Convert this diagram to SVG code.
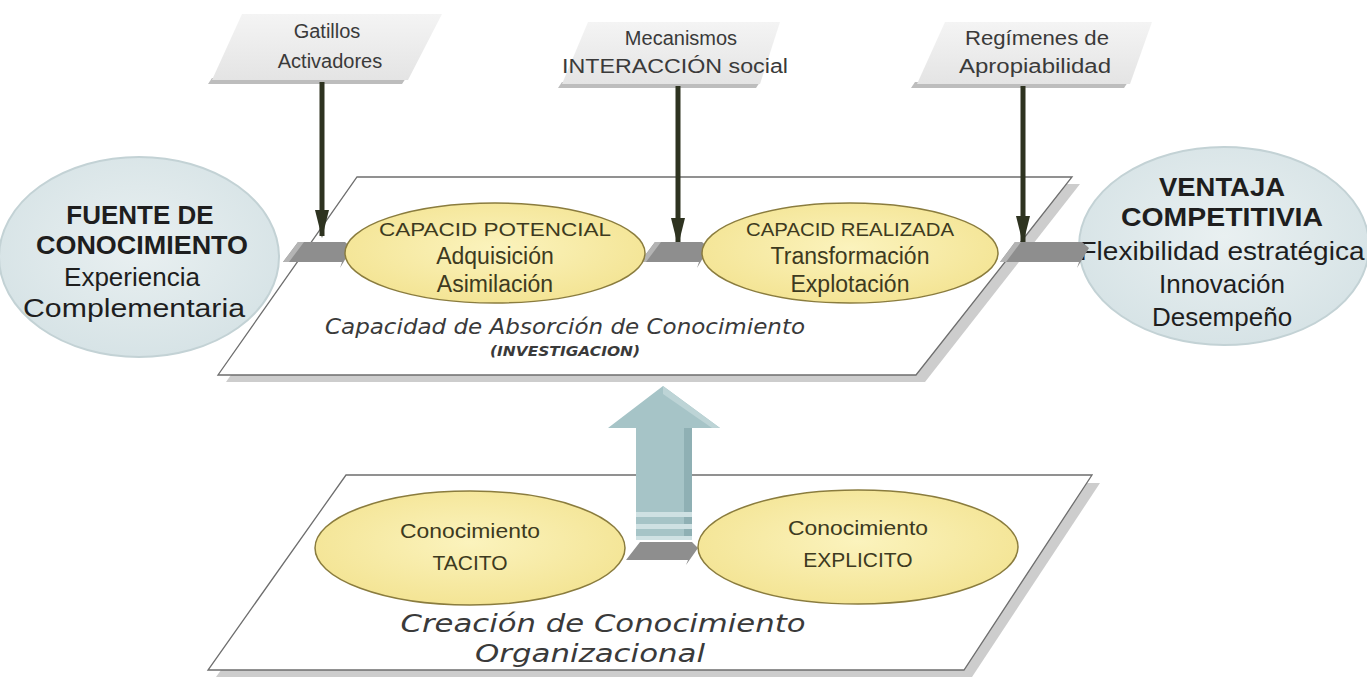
<svg xmlns="http://www.w3.org/2000/svg" width="1367" height="679" viewBox="0 0 1367 679">
<defs>
<linearGradient id="tagG" x1="0" y1="0" x2="0" y2="1"><stop offset="0" stop-color="#f4f4f4"/><stop offset="1" stop-color="#e4e4e4"/></linearGradient>
<radialGradient id="yelG" cx="0.5" cy="0.45" r="0.6"><stop offset="0" stop-color="#fbf3bd"/><stop offset="1" stop-color="#f3e391"/></radialGradient>
<radialGradient id="bluG" cx="0.5" cy="0.45" r="0.6"><stop offset="0" stop-color="#e9f0f1"/><stop offset="1" stop-color="#d5e2e5"/></radialGradient>
<marker id="ah" viewBox="0 0 28 14" refX="26" refY="7" markerWidth="28" markerHeight="14" markerUnits="userSpaceOnUse" orient="auto">
<path d="M0,0 L28,7 L0,14 Z" fill="#2e3320"/>
</marker>
</defs>
<style>
.tag{fill:url(#tagG);}
.tagsh{fill:#bdbdbd;}
.tagt{font-family:"Liberation Sans",Arial,sans-serif;font-size:20px;fill:#3a3a3a;text-anchor:middle;}
.plane{fill:#ffffff;stroke:#6e6e6e;stroke-width:1.3;}
.plsh{fill:#cdcdcd;}
.yel{fill:url(#yelG);stroke:#8a7c3e;stroke-width:1.5;}
.blu{fill:url(#bluG);stroke:#c3d2d5;stroke-width:2;}
.yt{font-family:"Liberation Sans",Arial,sans-serif;fill:#3d3a20;text-anchor:middle;}
.bt{font-family:"Liberation Sans",Arial,sans-serif;fill:#1e1e1e;text-anchor:middle;}
.it{font-family:"DejaVu Sans",Verdana,sans-serif;font-style:italic;fill:#3a3a3a;text-anchor:middle;}
.dk{stroke:#2e3320;stroke-width:5;fill:none;}
.ga{fill:#8e8e8e;}
.gal{fill:#b4b4b4;}
</style>

<g id="plane-upper">
<polygon class="plsh" points="365,184 1080,184 925,382 226,382"/>
<polygon class="plane" points="357,177 1072,177 916,375 218,375"/>
<text class="it" x="565" y="334" font-size="22" textLength="480" lengthAdjust="spacingAndGlyphs">Capacidad de Absorción de Conocimiento</text>
<text class="it" x="565" y="356" font-size="14" font-weight="bold" textLength="150" lengthAdjust="spacingAndGlyphs">(INVESTIGACION)</text>
</g>

<g id="plane-lower">
<polygon class="plsh" points="354,483 1100,483 972,677 216,677"/>
<polygon class="plane" points="346,475 1092,475 964,670 208,670"/>
<text class="it" x="603" y="632" font-size="24" textLength="405" lengthAdjust="spacingAndGlyphs">Creación de Conocimiento</text>
<text class="it" x="590" y="662" font-size="24" textLength="230" lengthAdjust="spacingAndGlyphs">Organizacional</text>
</g>

<g id="tag-gatillos">
<polygon class="tagsh" points="212,78 406,78 402,84 208,84"/>
<polygon class="tag" points="242,14 442,14 408,80 212,80"/>
<text class="tagt" x="327" y="38" font-size="21">Gatillos</text>
<text class="tagt" x="330" y="68" font-size="22">Activadores</text>
</g>

<g id="tag-mecanismos">
<polygon class="tagsh" points="562,82 760,82 756,88 558,88"/>
<polygon class="tag" points="588,22 780,22 760,84 562,84"/>
<text class="tagt" x="681" y="45">Mecanismos</text>
<text class="tagt" x="675" y="73" textLength="226" lengthAdjust="spacingAndGlyphs">INTERACCIÓN social</text>
</g>

<g id="tag-regimenes">
<polygon class="tagsh" points="915,82 1128,82 1124,88 911,88"/>
<polygon class="tag" points="945,22 1152,22 1130,84 917,84"/>
<text class="tagt" x="1037" y="45" textLength="144" lengthAdjust="spacingAndGlyphs">Regímenes de</text>
<text class="tagt" x="1035" y="73" textLength="152" lengthAdjust="spacingAndGlyphs">Apropiabilidad</text>
</g>

<g id="fuente">
<ellipse class="blu" cx="139" cy="257" rx="140" ry="100"/>
<text class="bt" x="140" y="224" font-size="26" font-weight="bold">FUENTE DE</text>
<text class="bt" x="142" y="254" font-size="26" font-weight="bold" textLength="212" lengthAdjust="spacingAndGlyphs">CONOCIMIENTO</text>
<text class="bt" x="132" y="286" font-size="26">Experiencia</text>
<text class="bt" x="134" y="317" font-size="26" textLength="222" lengthAdjust="spacingAndGlyphs">Complementaria</text>
</g>

<g id="ventaja">
<ellipse class="blu" cx="1224" cy="246" rx="145" ry="99"/>
<text class="bt" x="1222" y="196" font-size="26" font-weight="bold" textLength="126" lengthAdjust="spacingAndGlyphs">VENTAJA</text>
<text class="bt" x="1222" y="226" font-size="26" font-weight="bold" textLength="202" lengthAdjust="spacingAndGlyphs">COMPETITIVIA</text>
<text class="bt" x="1222" y="260" font-size="26" textLength="285" lengthAdjust="spacingAndGlyphs">Flexibilidad estratégica</text>
<text class="bt" x="1222" y="293" font-size="26">Innovación</text>
<text class="bt" x="1222" y="326" font-size="26">Desempeño</text>
</g>

<g id="connectors">
<line class="dk" x1="322" y1="82" x2="322" y2="236" marker-end="url(#ah)"/>
<line class="dk" x1="678" y1="86" x2="678" y2="244" marker-end="url(#ah)"/>
<line class="dk" x1="1023" y1="86" x2="1023" y2="242" marker-end="url(#ah)"/>
<polygon class="ga" points="283,262 298,242 345,242 352,248 340,268 342,262"/>
<polygon class="gal" points="283,262 298,242 304,242 289,262"/>
<polygon class="ga" points="640,262 655,242 702,242 709,248 697,268 699,262"/>
<polygon class="gal" points="640,262 655,242 661,242 646,262"/>
<polygon class="ga" points="1000,262 1015,242 1082,242 1089,248 1077,268 1079,262"/>
<polygon class="gal" points="1000,262 1015,242 1021,242 1006,262"/>
<polygon class="ga" points="626,560 640,542 692,542 698,548 686,565 688,560"/>
<g id="up-arrow">
<polygon points="663,386 720,428 692,428 692,538 636,538 636,428 608,428" fill="#a6c4c7"/>
<polygon points="663,386 720,428 712,428 663,394" fill="#bdd4d6"/>
<polygon points="684,428 692,428 692,538 684,538" fill="#8fb0b4"/>
<rect x="636" y="512" width="56" height="5" fill="#cfe1e3"/>
<rect x="636" y="524" width="56" height="5" fill="#cfe1e3"/>
<rect x="636" y="536" width="56" height="4" fill="#cfe1e3"/>
</g>
</g>

<g id="potencial">
<ellipse class="yel" cx="495" cy="253" rx="150" ry="50"/>
<text class="yt" x="495" y="236" font-size="19" textLength="232" lengthAdjust="spacingAndGlyphs">CAPACID POTENCIAL</text>
<text class="yt" x="495" y="264" font-size="23">Adquisición</text>
<text class="yt" x="495" y="292" font-size="23">Asimilación</text>
</g>

<g id="realizada">
<ellipse class="yel" cx="850" cy="253" rx="148" ry="50"/>
<text class="yt" x="850" y="236" font-size="19" textLength="208" lengthAdjust="spacingAndGlyphs">CAPACID REALIZADA</text>
<text class="yt" x="850" y="264" font-size="23">Transformación</text>
<text class="yt" x="850" y="292" font-size="23">Explotación</text>
</g>

<g id="tacito">
<ellipse class="yel" cx="470" cy="548" rx="155" ry="57"/>
<text class="yt" x="470" y="538" font-size="21" textLength="140" lengthAdjust="spacingAndGlyphs">Conocimiento</text>
<text class="yt" x="470" y="570" font-size="21">TACITO</text>
</g>

<g id="explicito">
<ellipse class="yel" cx="858" cy="547" rx="160" ry="57"/>
<text class="yt" x="858" y="535" font-size="21" textLength="140" lengthAdjust="spacingAndGlyphs">Conocimiento</text>
<text class="yt" x="858" y="567" font-size="21">EXPLICITO</text>
</g>
</svg>
